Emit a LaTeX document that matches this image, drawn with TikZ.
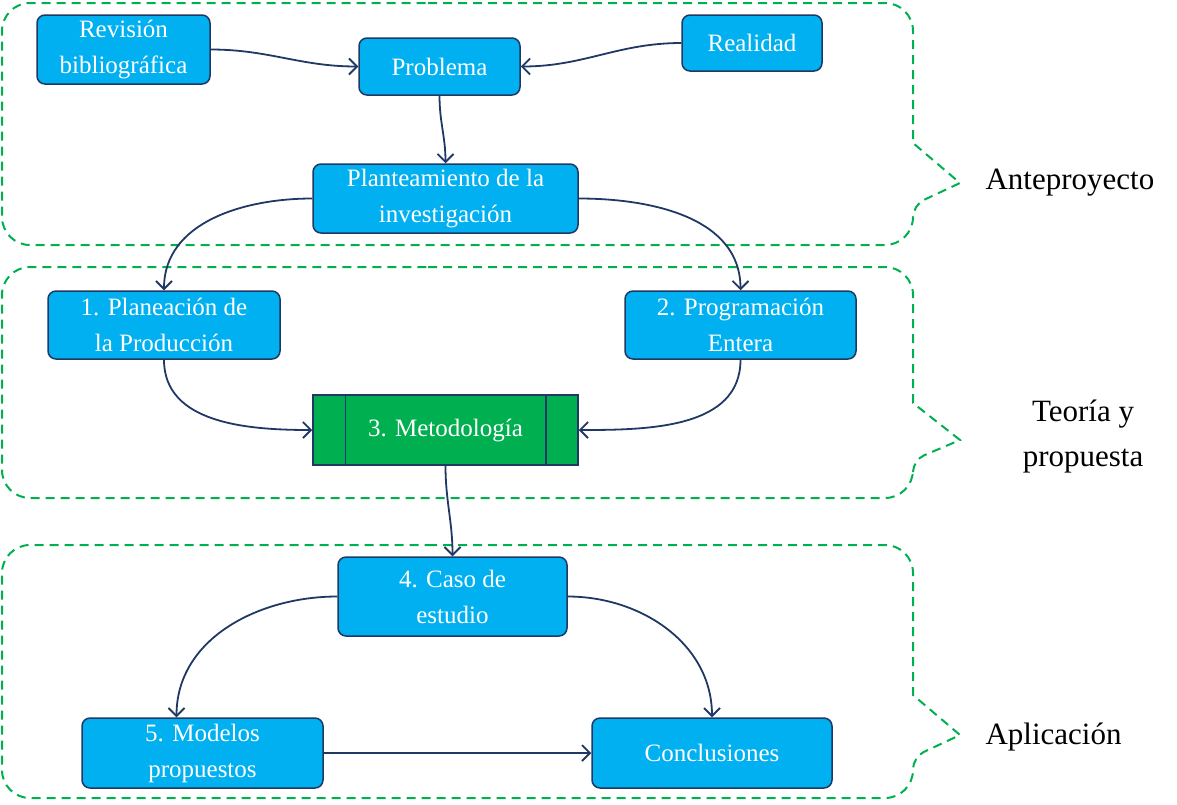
\documentclass[tikz,border=0pt]{standalone}
\usepackage{fontspec}
\setmainfont{Liberation Serif}
\usetikzlibrary{arrows.meta}
\definecolor{celeste}{HTML}{00B0F0}
\definecolor{verde}{HTML}{00B050}
\definecolor{azul}{HTML}{1F3864}
\begin{document}
\begin{tikzpicture}[x=1pt,y=1pt,
    caja/.style={draw=azul, fill=celeste, line width=1.5pt, rounded corners=8pt,
        text=white, align=center, inner sep=0pt,
        font=\fontsize{25}{36}\selectfont},
    proceso/.style={caja, fill=verde, rounded corners=0pt},
    flecha/.style={draw=azul, line width=1.8pt, -{Straight Barb[length=8pt,width=16pt]}},
    zona/.style={draw=verde, line width=2pt, dash pattern=on 9pt off 6pt},
    etiqueta/.style={align=center, font=\fontsize{31}{45}\selectfont}]
    \useasboundingbox (0,0) rectangle (1177,-804);
            % zonas
            \draw[zona, rounded corners=28pt] (400,-3) -- (913,-3) [sharp corners] -- (913,-143) -- (960,-183) [rounded corners=12pt] -- (913,-205) [rounded corners=28pt] -- (913,-245) -- (2,-245) -- (2,-3) -- cycle;
            \draw[zona, rounded corners=28pt] (400,-267) -- (913,-267) [sharp corners] -- (913,-403) -- (960,-440) [rounded corners=12pt] -- (913,-460) [rounded corners=28pt] -- (913,-498) -- (2,-498) -- (2,-267) -- cycle;
            \draw[zona, rounded corners=28pt] (400,-545) -- (913,-545) [sharp corners] -- (913,-695) -- (960,-735) [rounded corners=12pt] -- (913,-757) [rounded corners=28pt] -- (913,-798) -- (2,-798) -- (2,-545) -- cycle;
            \node[etiqueta, anchor=west] (ante) at (982,-183) {Anteproyecto};
            \node[etiqueta] (teoria) at (1083,-437) {Teoría y\\propuesta};
            \node[etiqueta, anchor=west] (aplic) at (982,-737) {Aplicación};
            % cajas
            \node[caja, minimum width=173pt, minimum height=69pt] (revision) at (123.5,-49.5) {Revisión\\bibliográfica};
            \node[caja, minimum width=161pt, minimum height=57pt] (problema) at (439.5,-66.5) {Problema};
            \node[caja, minimum width=140pt, minimum height=56pt] (realidad) at (752,-43) {Realidad};
            \node[caja, minimum width=265pt, minimum height=69pt] (plante) at (445.5,-198.5) {Planteamiento de la\\investigación};
            \node[caja, minimum width=232pt, minimum height=68pt] (planeacion) at (164,-325) {1. Planeación de\\la Producción};
            \node[caja, minimum width=231pt, minimum height=68pt] (programacion) at (740.5,-325) {2. Programación\\Entera};
            \node[proceso, minimum width=265pt, minimum height=70pt] (metodo) at (445.5,-430) {3. Metodología};
            \draw[azul, line width=1.5pt] ([xshift=33pt]metodo.north west) -- ([xshift=33pt]metodo.south west);
            \draw[azul, line width=1.5pt] ([xshift=-33pt]metodo.north east) -- ([xshift=-33pt]metodo.south east);
            \node[caja, minimum width=229pt, minimum height=79pt] (caso) at (452.5,-596.5) {4. Caso de\\estudio};
            \node[caja, minimum width=241pt, minimum height=70pt] (modelos) at (202.5,-753) {5. Modelos\\propuestos};
            \node[caja, minimum width=240pt, minimum height=70pt] (concl) at (712,-753) {Conclusiones};
            % flechas
            \draw[flecha] (revision.east) to[out=0,in=180] (problema.west);
            \draw[flecha] (realidad.west) to[out=180,in=0] (problema.east);
            \draw[flecha] (problema.south) to[out=-90,in=90] (plante.north);
            \draw[flecha] (plante.west) to[out=180,in=90] (planeacion.north);
            \draw[flecha] (plante.east) to[out=0,in=90] (programacion.north);
            \draw[flecha] (planeacion.south) to[out=-90,in=180] (metodo.west);
            \draw[flecha] (programacion.south) to[out=-90,in=0] (metodo.east);
            \draw[flecha] (metodo.south) to[out=-90,in=90] (caso.north);
            \draw[flecha] (caso.west) to[out=180,in=90] ([xshift=-26pt]modelos.north);
            \draw[flecha] (caso.east) to[out=0,in=90] (concl.north);
            \draw[flecha] (modelos.east) -- (concl.west);
        \end{tikzpicture}
\end{document}
